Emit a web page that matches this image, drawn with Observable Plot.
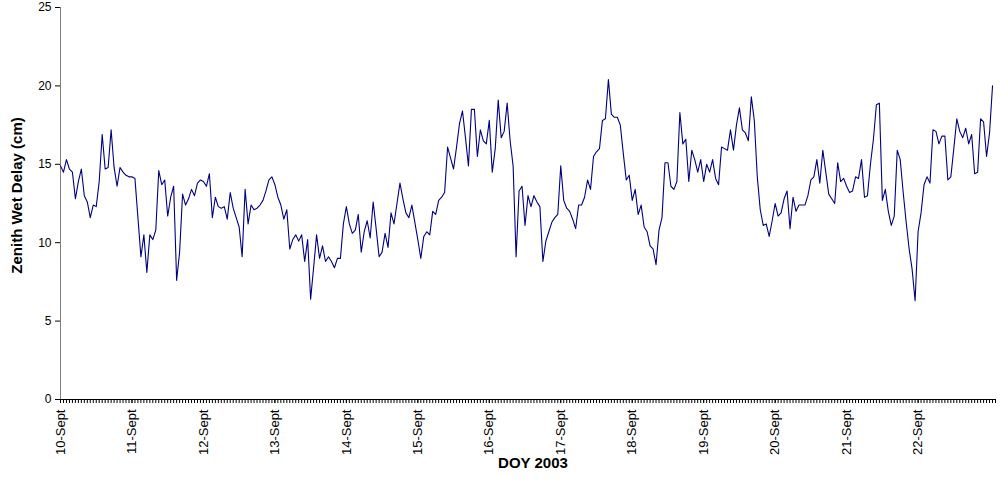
<!DOCTYPE html>
<html><head><meta charset="utf-8">
<script src="https://cdn.jsdelivr.net/npm/d3@7"></script>
<script src="https://cdn.jsdelivr.net/npm/@observablehq/plot@0.6"></script>
<style>html,body{margin:0;padding:0;background:#fff;}</style>
</head><body><div id="chart"></div>
<script>
// Day labels (one tick every 24 hourly samples)
const dayLabels = ["10-Sept","11-Sept","12-Sept","13-Sept","14-Sept","15-Sept","16-Sept","17-Sept","18-Sept","19-Sept","20-Sept","21-Sept","22-Sept"];
const yTicks = [0, 5, 10, 15, 20, 25];

// Hourly zenith wet delay (cm)
const sept10 = [14.9,14.5,15.3,14.7,14.5,12.8,13.9,14.7,13.0,12.6,11.6,12.4,12.3,13.9,16.9,14.7,14.8,17.2,14.8,13.6,14.8,14.5,14.3,14.2];
const sept11 = [14.2,14.1,11.6,9.1,10.5,8.1,10.5,10.2,10.8,14.6,13.7,14.0,11.7,12.9,13.6,7.6,9.4,13.1,12.4,12.8,13.4,13.0,13.8,14.0];
const sept12 = [13.9,13.6,14.4,11.6,12.9,12.3,12.2,12.3,11.5,13.2,12.2,11.6,11.0,9.1,13.4,11.2,12.4,12.1,12.2,12.4,12.7,13.3,14.0,14.2];
const sept13 = [13.7,12.9,12.4,11.5,12.1,9.6,10.2,10.5,10.1,10.5,8.8,10.2,6.4,8.4,10.5,9.0,9.8,8.8,9.1,8.8,8.4,9.0,9.0,11.2];
const sept14 = [12.3,11.2,10.6,10.8,11.8,9.4,10.7,11.4,10.3,12.6,10.9,9.1,9.4,10.6,9.7,11.9,11.2,12.5,13.8,12.8,11.9,11.6,12.4,11.3];
const sept15 = [10.2,9.0,10.4,10.7,10.5,12.0,11.8,12.7,12.9,13.2,16.1,15.4,14.7,16.1,17.6,18.4,16.7,14.9,18.5,18.5,15.5,17.2,16.5,16.3];
const sept16 = [17.8,14.5,16.0,19.1,16.7,17.1,18.9,16.5,14.9,9.1,13.3,13.6,11.1,13.0,12.3,13.0,12.6,12.3,8.8,10.1,10.7,11.3,11.6,11.8];
const sept17 = [14.9,12.7,12.2,12.0,11.5,10.9,12.4,12.4,12.9,14.0,13.4,15.5,15.8,16.0,17.8,17.9,20.4,18.2,18.0,18.0,17.5,15.7,14.0,14.3];
const sept18 = [12.7,13.4,11.8,12.4,11.0,10.7,9.8,9.6,8.6,10.8,11.6,15.1,15.1,13.6,13.4,13.9,18.3,16.3,16.6,13.9,15.9,15.3,14.5,15.3];
const sept19 = [13.9,15.0,14.5,15.3,14.1,13.7,16.1,16.0,15.9,17.2,15.9,17.5,18.6,17.2,17.0,16.5,19.3,17.8,14.2,12.1,11.1,11.2,10.4,11.4];
const sept20 = [12.5,11.7,11.9,12.8,13.3,10.9,12.9,12.0,12.4,12.4,12.4,13.0,14.0,14.2,15.3,13.8,15.9,14.5,13.1,12.8,12.5,15.1,13.9,14.1];
const sept21 = [13.6,13.2,13.3,14.2,14.1,15.3,12.9,13.0,15.0,16.6,18.8,18.9,12.7,13.4,12.0,11.1,11.7,15.9,15.3,13.2,11.3,9.6,8.3,6.3];
const sept22 = [10.7,11.9,13.7,14.2,13.8,17.2,17.1,16.3,16.8,16.8,14.0,14.2,16.0,17.9,17.1,16.7,17.3,16.3,16.9,14.4,14.5,17.9,17.7,15.5,17.0,20.0];

const hourly = [sept10,sept11,sept12,sept13,sept14,sept15,sept16,sept17,sept18,sept19,sept20,sept21,sept22].flat();
const data = hourly.map((v, i) => ({hour: i, zwd: v}));
const nHours = hourly.length;
const dayTicks = dayLabels.map((_, i) => i * 24);

const font = "'Liberation Sans', Arial, sans-serif";

const chart = Plot.plot({
  width: 1003,
  height: 482,
  marginLeft: 60,
  marginRight: 8,
  marginTop: 7,
  marginBottom: 83,
  style: {fontFamily: font, fontSize: "12px", color: "#000", background: "#fff", overflow: "visible"},
  x: {domain: [0, nHours], axis: null},
  y: {domain: [0, 25], axis: null},
  marks: [
    Plot.axisY({ticks: yTicks, tickSize: 5, tickPadding: 4, label: null, fontSize: 12, stroke: "#000", strokeOpacity: 1}),
    Plot.axisX({ticks: d3.range(0, nHours + 1), tickSize: 4, tickFormat: () => "", label: null, stroke: "#000", strokeOpacity: 1}),
    Plot.axisX({ticks: dayTicks, tickSize: 4, tickPadding: 6, tickRotate: -90, tickFormat: d => dayLabels[d / 24], label: null, fontSize: 13, stroke: "#000", strokeOpacity: 1}),
    Plot.ruleX([0], {stroke: "#808080", strokeWidth: 1}),
    Plot.ruleY([0], {stroke: "#000", strokeWidth: 1}),
    Plot.lineY(data, {x: "hour", y: "zwd", stroke: "#000080", strokeWidth: 1.1}),
    Plot.text(["Zenith Wet Delay (cm)"], {frameAnchor: "left", textAnchor: "middle", dx: -43, dy: -8, rotate: -90, fontWeight: "bold", fontSize: 15, fill: "#000"}),
    Plot.text(["DOY 2003"], {frameAnchor: "bottom", dy: 68, dx: 5, fontWeight: "bold", fontSize: 15, fill: "#000"})
  ]
});
document.getElementById("chart").appendChild(chart);
</script>
</body></html>
